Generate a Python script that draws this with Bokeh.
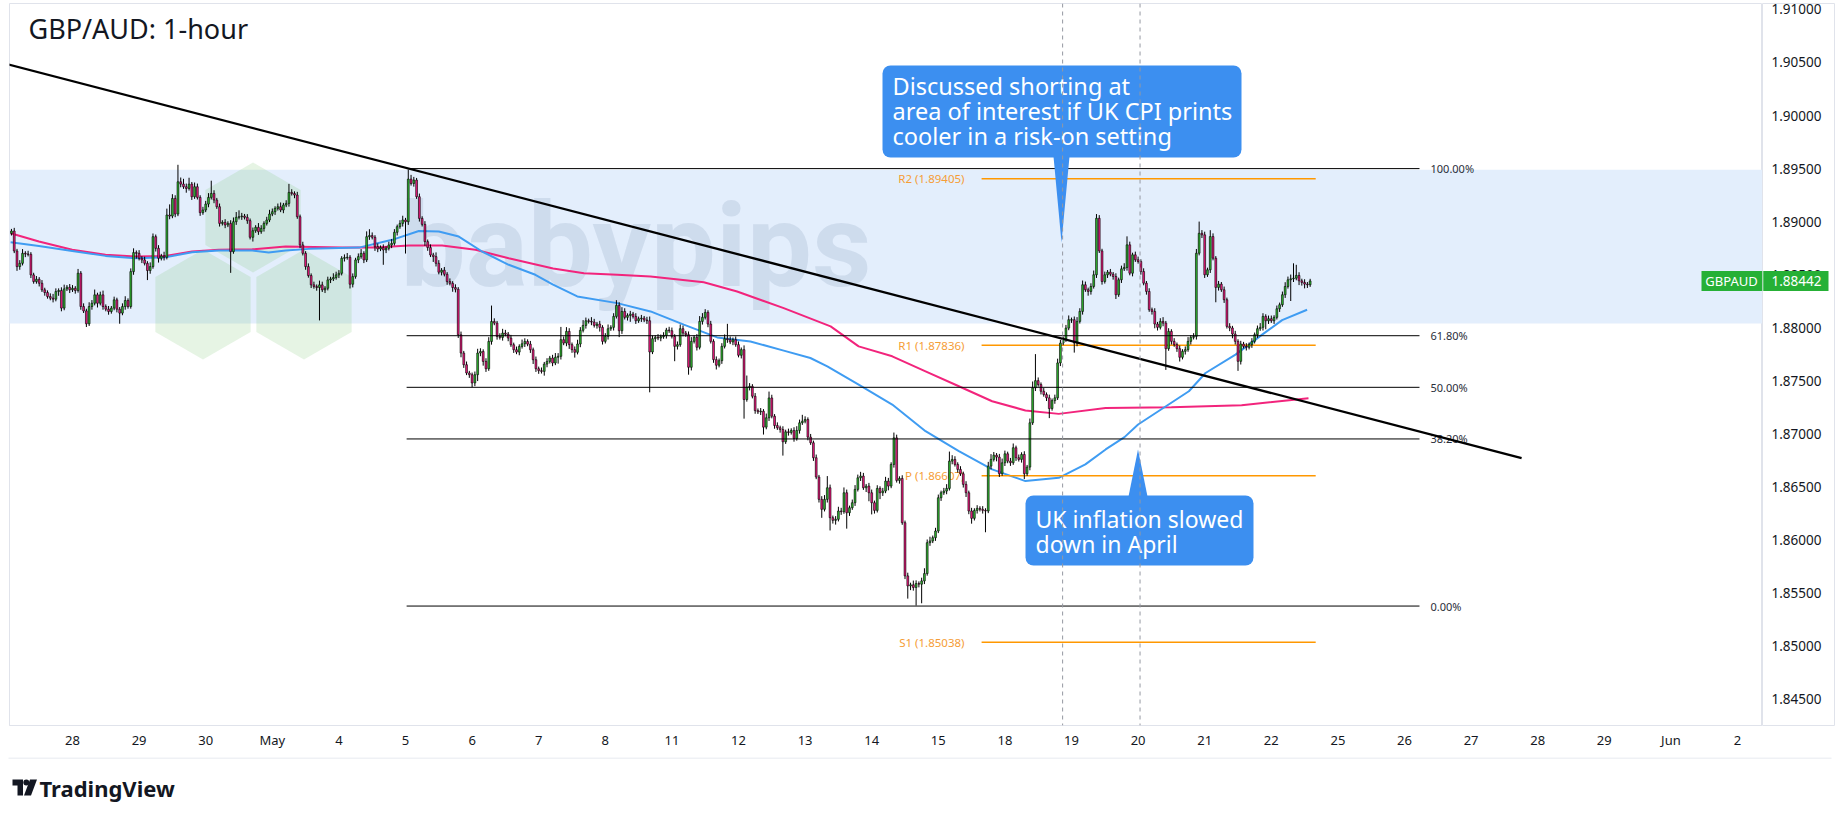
import math
from bokeh.plotting import figure
from bokeh.layouts import column, row
from bokeh.models import Range1d, FixedTicker, Span
from bokeh.core.properties import value
from bokeh.embed import file_html
from bokeh.resources import INLINE

# ---------------- data (hourly closes per trading day, GBP/AUD) ----------------
first_open = 1.88890
c_apr27 = [1.88912, 1.88724, 1.88577, 1.88608, 1.88702, 1.88696, 1.88693, 1.88499, 1.88436, 1.88458, 1.88420, 1.88358, 1.88333, 1.88295, 1.88280, 1.88270, 1.88342, 1.88352, 1.88186, 1.88367, 1.88383, 1.88358]
c_apr28 = [1.88373, 1.88352, 1.88515, 1.88201, 1.88160, 1.88038, 1.88201, 1.88232, 1.88311, 1.88232, 1.88311, 1.88201, 1.88176, 1.88154, 1.88186, 1.88264, 1.88176, 1.88139, 1.88201, 1.88258, 1.88201, 1.88530, 1.88709, 1.88702]
c_apr29 = [1.88655, 1.88640, 1.88608, 1.88540, 1.88577, 1.88859, 1.88749, 1.88655, 1.88677, 1.88665, 1.89063, 1.89053, 1.89219, 1.89072, 1.89376, 1.89354, 1.89329, 1.89313, 1.89354, 1.89235, 1.89329, 1.89229, 1.89085, 1.89110]
c_apr30 = [1.89166, 1.89229, 1.89266, 1.89204, 1.89141, 1.88984, 1.88994, 1.88969, 1.88984, 1.88718, 1.89000, 1.89041, 1.89047, 1.89053, 1.89041, 1.89010, 1.88853, 1.88915, 1.88947, 1.88906, 1.88937, 1.88984, 1.89016, 1.89072]
c_may01 = [1.89094, 1.89125, 1.89141, 1.89110, 1.89157, 1.89172, 1.89276, 1.89266, 1.89251, 1.89047, 1.88781, 1.88702, 1.88577, 1.88493, 1.88405, 1.88389, 1.88380, 1.88405, 1.88358, 1.88373, 1.88452, 1.88461, 1.88474, 1.88499]
c_may04 = [1.88514, 1.88655, 1.88662, 1.88665, 1.88411, 1.88483, 1.88640, 1.88671, 1.88702, 1.88640, 1.88859, 1.88869, 1.88853, 1.88765, 1.88743, 1.88756, 1.88734, 1.88749, 1.88781, 1.88796, 1.88900, 1.88953, 1.88984, 1.89016]
c_may05 = [1.89000, 1.89401, 1.89360, 1.89392, 1.89235, 1.89031, 1.88975, 1.88812, 1.88756, 1.88687, 1.88671, 1.88608, 1.88524, 1.88543, 1.88505, 1.88436, 1.88420, 1.88380, 1.88364, 1.87935, 1.87763, 1.87653, 1.87575, 1.87559]
c_may06 = [1.87481, 1.87559, 1.87763, 1.87778, 1.87684, 1.87615, 1.87872, 1.88060, 1.88045, 1.87919, 1.87910, 1.87951, 1.87941, 1.87904, 1.87841, 1.87794, 1.87772, 1.87825, 1.87850, 1.87872, 1.87847, 1.87794, 1.87700, 1.87615]
c_may07 = [1.87597, 1.87590, 1.87659, 1.87684, 1.87716, 1.87669, 1.87723, 1.87732, 1.87889, 1.87857, 1.87967, 1.87842, 1.87795, 1.87770, 1.87848, 1.87977, 1.88023, 1.88067, 1.88061, 1.88055, 1.88023, 1.88036, 1.88005, 1.87873]
c_may08 = [1.87920, 1.87992, 1.88005, 1.88108, 1.88211, 1.87973, 1.88155, 1.88099, 1.88117, 1.88130, 1.88108, 1.88067, 1.88086, 1.88092, 1.88074, 1.88067, 1.87773, 1.87898, 1.87911, 1.87904, 1.87917, 1.87929, 1.87980, 1.87973]
c_may11 = [1.87920, 1.87826, 1.87842, 1.87992, 1.87951, 1.87936, 1.87629, 1.87873, 1.87911, 1.87817, 1.88061, 1.88099, 1.88146, 1.88036, 1.87873, 1.87701, 1.87648, 1.87691, 1.87826, 1.87898, 1.87889, 1.87867, 1.87889, 1.87842]
c_may12 = [1.87742, 1.87795, 1.87325, 1.87441, 1.87450, 1.87356, 1.87221, 1.87209, 1.87215, 1.87065, 1.87153, 1.87340, 1.87168, 1.87080, 1.87059, 1.87043, 1.86927, 1.87021, 1.87015, 1.87034, 1.86958, 1.87034, 1.87106, 1.87121]
c_may13 = [1.87137, 1.86971, 1.86918, 1.86777, 1.86595, 1.86385, 1.86291, 1.86385, 1.86494, 1.86212, 1.86187, 1.86197, 1.86275, 1.86269, 1.86447, 1.86259, 1.86306, 1.86353, 1.86479, 1.86588, 1.86604, 1.86494, 1.86510, 1.86447]
c_may14 = [1.86353, 1.86281, 1.86488, 1.86447, 1.86463, 1.86557, 1.86510, 1.86714, 1.86964, 1.86563, 1.86582, 1.86165, 1.85664, 1.85570, 1.85580, 1.85555, 1.85592, 1.85586, 1.85617, 1.85686, 1.85977, 1.85993, 1.86024, 1.86087]
c_may15 = [1.86400, 1.86447, 1.86463, 1.86488, 1.86745, 1.86761, 1.86714, 1.86667, 1.86626, 1.86526, 1.86447, 1.86275, 1.86206, 1.86281, 1.86300, 1.86291, 1.86281, 1.86275, 1.86698, 1.86761, 1.86801, 1.86783, 1.86626, 1.86729]
c_may18 = [1.86814, 1.86745, 1.86730, 1.86871, 1.86777, 1.86761, 1.86808, 1.86626, 1.86689, 1.87106, 1.87435, 1.87503, 1.87466, 1.87403, 1.87372, 1.87341, 1.87240, 1.87315, 1.87341, 1.87670, 1.87857, 1.87898, 1.87998, 1.88077]
c_may19 = [1.88077, 1.87857, 1.88061, 1.88155, 1.88406, 1.88359, 1.88343, 1.88390, 1.88500, 1.89032, 1.88725, 1.88437, 1.88500, 1.88525, 1.88506, 1.88484, 1.88312, 1.88453, 1.88556, 1.88569, 1.88782, 1.88515, 1.88688, 1.88641]
c_may20 = [1.88625, 1.88531, 1.88421, 1.88343, 1.88171, 1.88155, 1.88036, 1.88005, 1.88061, 1.88045, 1.87804, 1.87967, 1.87873, 1.87842, 1.87804, 1.87723, 1.87779, 1.87795, 1.87873, 1.87911, 1.87920, 1.88703, 1.88891, 1.88876]
c_may21 = [1.88500, 1.88547, 1.88860, 1.88656, 1.88381, 1.88412, 1.88359, 1.88265, 1.88014, 1.87999, 1.87942, 1.87873, 1.87685, 1.87848, 1.87826, 1.87817, 1.87842, 1.87873, 1.87936, 1.87992, 1.88005, 1.88108, 1.88067, 1.88086]
c_may22 = [1.88067, 1.88099, 1.88180, 1.88218, 1.88312, 1.88390, 1.88453, 1.88462, 1.88468, 1.88494, 1.88443, 1.88428, 1.88412, 1.88406, 1.88442]

# upper / lower wick lengths in pips, per candle
u_apr27 = [2,3,2,3,4,2,3,2,2,3,2,3,2,2,3,4,3,2,3,4,2,3]
d_apr27 = [2,2,4,3,2,3,2,3,2,2,3,2,3,2,2,3,2,4,3,2,2,3]
u_apr28 = [3,2,4,2,3,2,4,3,5,2,3,4,2,3,2,3,2,2,3,4,2,3,4,2]
d_apr28 = [2,3,2,3,2,3,2,3,2,4,2,3,2,3,2,2,3,10,2,3,2,2,3,5]
u_apr29 = [3,2,3,2,4,3,2,3,2,4,6,10,4,3,16,4,5,3,6,2,4,3,2,3]
d_apr29 = [2,3,2,9,3,2,3,4,2,3,2,3,2,3,2,3,2,4,2,3,2,2,3,2]
u_apr30 = [3,4,12,3,2,3,2,3,2,3,4,5,6,3,2,3,2,3,2,4,3,2,3,4]
d_apr30 = [2,3,2,3,2,3,2,3,2,20,2,3,2,3,2,3,2,4,2,3,2,3,2,2]
u_may01 = [3,2,3,4,2,3,8,3,2,3,2,3,2,3,2,3,2,4,3,2,3,2,4,3]
d_may01 = [2,3,2,2,3,2,3,2,3,2,3,2,3,2,3,2,3,31,2,3,2,3,2,2]
u_may04 = [3,2,3,4,2,3,2,3,4,2,5,6,3,2,3,2,3,2,3,4,3,2,3,4]
d_may04 = [3,2,3,2,4,3,2,3,2,3,2,3,2,4,3,2,14,3,2,3,2,3,2,3]
u_may05 = [2,9,4,3,2,3,2,3,2,3,2,4,3,2,3,2,3,2,3,2,3,2,3,2]
d_may05 = [30,3,2,3,2,3,2,4,3,2,5,3,2,3,2,3,2,4,3,3,4,3,2,3]
u_may06 = [2,3,4,3,2,3,4,15,3,2,3,4,3,2,3,2,3,2,4,3,2,3,2,3]
d_may06 = [4,3,6,3,4,3,2,3,2,3,2,3,2,3,2,3,2,3,2,3,2,3,4,3]
u_may07 = [2,3,2,3,2,3,4,3,12,3,4,3,2,3,4,3,5,3,2,4,3,2,3,2]
d_may07 = [3,2,4,3,2,3,2,6,3,2,3,4,3,5,2,3,2,3,2,3,2,3,4,3]
u_may08 = [3,4,2,3,5,3,4,3,2,3,2,3,2,3,2,3,4,3,2,3,2,3,2,3]
d_may08 = [2,3,2,3,2,6,3,2,3,6,2,3,2,3,2,3,38,2,3,2,3,2,3,2]
u_may11 = [3,2,3,4,3,2,3,4,2,3,5,4,3,2,3,2,3,2,3,4,14,3,2,3]
d_may11 = [2,14,3,2,3,2,7,3,2,3,2,3,2,3,2,3,4,2,3,2,3,2,3,2]
u_may12 = [3,2,4,11,3,2,3,2,3,2,4,6,3,2,3,2,3,2,3,2,3,4,3,6]
d_may12 = [2,3,18,2,3,2,3,2,3,7,2,3,2,3,2,3,13,2,3,2,3,2,3,2]
u_may13 = [3,2,3,2,3,2,3,4,11,3,2,3,4,3,5,3,2,3,4,3,4,3,2,3]
d_may13 = [2,3,2,3,2,3,8,2,3,12,3,4,2,3,2,15,3,2,3,2,3,2,4,8]
u_may14 = [3,2,3,2,3,4,3,2,5,3,2,3,2,3,2,4,3,2,3,5,3,4,2,3]
d_may14 = [11,3,2,6,3,2,4,2,3,2,3,2,3,12,4,3,17,3,18,3,2,3,2,3]
u_may15 = [3,2,3,4,9,4,3,2,3,2,3,2,3,2,3,2,3,2,4,5,3,2,3,4]
d_may15 = [2,3,2,3,2,3,2,3,2,3,4,3,5,2,3,2,3,20,2,3,2,4,3,2]
u_may18 = [3,2,3,4,2,3,2,3,2,4,6,25,3,2,3,2,3,2,3,4,3,2,3,4]
d_may18 = [3,2,3,2,3,2,3,5,2,3,2,3,2,3,2,3,9,2,3,2,3,2,3,2]
u_may19 = [2,3,4,3,4,3,2,3,4,4,3,2,3,2,3,2,3,2,3,4,8,3,2,3]
d_may19 = [3,9,3,2,3,2,4,3,2,3,2,3,2,3,2,3,4,2,3,2,3,2,3,2]
u_may20 = [3,2,3,2,3,2,3,2,3,4,2,3,2,3,2,3,2,3,4,2,3,4,11,3]
d_may20 = [2,3,2,3,2,3,4,3,2,3,20,2,3,2,3,4,2,3,2,3,2,3,2,3]
u_may21 = [3,2,6,3,2,3,2,3,2,3,2,3,2,3,2,3,2,3,2,3,4,3,2,3]
d_may21 = [3,2,3,2,14,3,2,3,2,3,4,3,9,3,2,3,2,3,2,3,2,3,8,3]
u_may22 = [3,2,3,2,3,4,3,4,14,10,3,2,3,2,2]
d_may22 = [2,3,2,3,2,3,2,20,3,2,4,3,4,3,2]

# first bar index of each day (bar 0 = Apr 28 00:00, 24 bars per day)
day_start = [-22, 0, 24, 48, 72, 96, 120, 144, 168, 192, 216, 240, 264, 288, 312, 336, 360, 384, 408, 432]
day_close = [c_apr27, c_apr28, c_apr29, c_apr30, c_may01, c_may04, c_may05, c_may06, c_may07, c_may08,
             c_may11, c_may12, c_may13, c_may14, c_may15, c_may18, c_may19, c_may20, c_may21, c_may22]
day_up = [u_apr27, u_apr28, u_apr29, u_apr30, u_may01, u_may04, u_may05, u_may06, u_may07, u_may08,
          u_may11, u_may12, u_may13, u_may14, u_may15, u_may18, u_may19, u_may20, u_may21, u_may22]
day_dn = [d_apr27, d_apr28, d_apr29, d_apr30, d_may01, d_may04, d_may05, d_may06, d_may07, d_may08,
          d_may11, d_may12, d_may13, d_may14, d_may15, d_may18, d_may19, d_may20, d_may21, d_may22]

# moving averages (bar index, value)
ma200_t = [-22.3, -12.1, -0.1, 11.9, 22.7, 33.5, 43.1, 52.7, 64.8, 76.8, 97.2, 109.2, 121.2, 133.2, 145.2, 157.2, 173.2, 184.3, 196.3, 208.3, 227.5, 239.5, 256.3, 273.2, 283.3, 295.4, 307.4, 319.4, 331.4, 343.4, 355.4, 372.3, 396.0, 421.3, 445.4]
ma200 = [1.88891, 1.88813, 1.88735, 1.88688, 1.88672, 1.88678, 1.88719, 1.88735, 1.88740, 1.88766, 1.88756, 1.88756, 1.88775, 1.88775, 1.88735, 1.88656, 1.88559, 1.88515, 1.88500, 1.88484, 1.88430, 1.88343, 1.88186, 1.88014, 1.87826, 1.87732, 1.87591, 1.87450, 1.87309, 1.87222, 1.87190, 1.87246, 1.87253, 1.87271, 1.87337]
ma100_t = [-22.3, -12.1, -0.1, 11.9, 22.7, 33.5, 43.1, 52.7, 64.8, 70.7, 76.8, 85.2, 103.2, 115.2, 124.8, 132.0, 139.2, 147.6, 157.2, 166.8, 173.0, 181.9, 196.3, 208.3, 220.3, 232.3, 244.3, 256.3, 265.9, 272.0, 283.3, 295.4, 307.4, 319.4, 331.4, 343.4, 355.4, 365.0, 372.3, 379.1, 384.0, 402.3, 408.3, 419.1, 428.7, 435.9, 444.9]
ma100 = [1.88806, 1.88772, 1.88725, 1.88678, 1.88656, 1.88665, 1.88712, 1.88728, 1.88728, 1.88709, 1.88728, 1.88744, 1.88756, 1.88829, 1.88913, 1.88907, 1.88860, 1.88719, 1.88594, 1.88500, 1.88409, 1.88296, 1.88233, 1.88155, 1.88030, 1.87910, 1.87872, 1.87786, 1.87716, 1.87638, 1.87466, 1.87278, 1.87027, 1.86839, 1.86667, 1.86557, 1.86588, 1.86714, 1.86855, 1.86971, 1.87090, 1.87403, 1.87575, 1.87748, 1.87936, 1.88073, 1.88171]

trend_t = [-23.5, 522.2]
trend_p = [1.90484, 1.86773]

fib_high, fib_low = 1.8950, 1.8538
fib_ratios = [1.0, 0.618, 0.5, 0.382, 0.0]
fib_labels = ["100.00%", "61.80%", "50.00%", "38.20%", "0.00%"]
fib_t = [120.4, 485.4]

pivot_names = ["R2", "R1", "P", "S1"]
pivot_vals = [1.89405, 1.87836, 1.86607, 1.85038]
pivot_t = [327.6, 448.0]

zone_low, zone_high = 1.8804, 1.8949
event_t = [356.8, 384.7]
symbol = "GBPAUD"
last_price = 1.88442

day_labels = ["28", "29", "30", "May", "4", "5", "6", "7", "8", "11", "12", "13", "14", "15",
              "18", "19", "20", "21", "22", "25", "26", "27", "28", "29", "Jun", "2"]
price_ticks = [1.845, 1.850, 1.855, 1.860, 1.865, 1.870, 1.875, 1.880, 1.885, 1.890, 1.895, 1.900, 1.905, 1.910]

# ---------------- build candles ----------------
closes, idx, ups, dns = [], [], [], []
for s0, c, u, d in zip(day_start, day_close, day_up, day_dn):
    for h, (cv, uv, dv) in enumerate(zip(c, u, d)):
        idx.append(s0 + h)
        closes.append(cv)
        ups.append(uv)
        dns.append(dv)
opens = [first_open] + closes[:-1]
tops = [max(o, c) for o, c in zip(opens, closes)]
bots = [min(o, c) for o, c in zip(opens, closes)]
highs = [t + u * 0.0001 for t, u in zip(tops, ups)]
lows = [b - d * 0.0001 for b, d in zip(bots, dns)]
GREEN, RED = "#2fb52f", "#ec1a7e"
colors = [GREEN if c >= o else RED for o, c in zip(opens, closes)]
bot_draw = [b if t - b > 0.00004 else t - 0.00004 for t, b in zip(tops, bots)]

# ---------------- layout helpers (page pixels -> data) ----------------
FL, FR, FT, FB, HB = 9, 1762, 3, 725, 757   # frame edges / bottom of time-axis band (page px)
X0, X1 = (FL - 72.0) / 2.775, (FR - 72.0) / 2.775
Y0, Y1 = 1.84255, 1.91055
FH = float(FB - FT)
KY = (Y1 - Y0) / FH
def ix(px):
    return (px - 72.0) / 2.775
def py(pg):
    return Y1 - (pg - FT) * KY

FONT = "Noto Sans"
TXT = "#131722"
BORDER = "#e0e3eb"
yr = Range1d(Y0, Y1)

p = figure(width=FR, height=HB, x_range=Range1d(X0, X1), y_range=yr,
           output_backend="svg", toolbar_location=None, y_axis_location=None,
           min_border_left=FL, min_border_right=0, min_border_top=FT, min_border_bottom=HB - FB)
p.background_fill_color = "white"
p.border_fill_color = "white"
p.outline_line_color = BORDER
p.xgrid.visible = False
p.ygrid.visible = False

# zone
p.quad(left=X0 - 5, right=X1 + 5, bottom=zone_low, top=zone_high, fill_color="#e3eefc", line_color=None)

# babypips watermark
hex_centers = [(252.5, 217.0), (202.5, 304.0), (303.5, 304.0)]
hx, hy = [], []
for cx, cy in hex_centers:
    xs, ys = [], []
    for k in range(6):
        a = math.radians(90 + 60 * k)
        xs.append(ix(cx + 55 * math.cos(a)))
        ys.append(py(cy - 55 * math.sin(a)))
    hx.append(xs)
    hy.append(ys)
p.patches(hx, hy, fill_color="#82c878", fill_alpha=0.2, line_color=None)
p.text(x=[ix(400)], y=[py(245)], text=["babypips"], text_font=value("Roboto"), text_font_style="bold",
       text_font_size="116px", text_color="#8ea4bf", text_alpha=0.24, text_baseline="middle")

# moving averages
p.line(ma200_t, ma200, line_color="#f2247c", line_width=2)
p.line(ma100_t, ma100, line_color="#3f9cf2", line_width=2)

# pivots (indicator, below the candles)
p.segment(x0=[pivot_t[0]] * 4, x1=[pivot_t[1]] * 4, y0=pivot_vals, y1=pivot_vals, line_color="#ff9800", line_width=1.5)
p.text(x=[ix(964)] * 4, y=pivot_vals, text=["%s (%.5f)" % (n, v) for n, v in zip(pivot_names, pivot_vals)],
       text_font=value(FONT), text_font_size="11.5px", text_color="#f59d36", text_baseline="middle", text_align="right")

# candles
p.segment(x0=idx, y0=lows, x1=idx, y1=highs, line_color="black", line_width=1)
p.vbar(x=idx, width=0.66, top=tops, bottom=bot_draw, fill_color=colors, line_color="black", line_width=0.6)

# fibonacci
fib_vals = [fib_low + r * (fib_high - fib_low) for r in fib_ratios]
p.segment(x0=[fib_t[0]] * 5, x1=[fib_t[1]] * 5, y0=fib_vals, y1=fib_vals, line_color="black", line_width=1)
p.text(x=[ix(1430)] * 5, y=fib_vals, text=fib_labels, text_font=value(FONT), text_font_size="11px",
       text_color="#2a2e39", text_baseline="middle", text_align="left")

# trend line
p.line(trend_t, trend_p, line_color="black", line_width=2.3)

# event lines
for t in event_t:
    p.add_layout(Span(location=t, dimension="height", line_color="#9598a1", line_dash="4 4", line_width=1))

# callouts
CALL = "#3c8ff0"
p.quad(left=ix(882), right=ix(1241), top=py(65), bottom=py(157), fill_color=CALL, line_color=None, border_radius=8)
p.patch(x=[ix(1053), ix(1069), ix(1061)], y=[py(156), py(156), py(242)], fill_color=CALL, line_color=None)
p.text(x=[ix(892)] * 3, y=[py(85), py(110), py(135)],
       text=["Discussed shorting at", "area of interest if UK CPI prints", "cooler in a risk-on setting"],
       text_font=value(FONT), text_font_size="23.5px", text_color="white", text_baseline="middle")
p.quad(left=ix(1025), right=ix(1253), top=py(495), bottom=py(565), fill_color=CALL, line_color=None, border_radius=8)
p.patch(x=[ix(1128), ix(1147), ix(1137.5)], y=[py(496), py(496), py(449)], fill_color=CALL, line_color=None)
p.text(x=[ix(1035)] * 2, y=[py(518), py(543)], text=["UK inflation slowed", "down in April"],
       text_font=value(FONT), text_font_size="23px", text_color="white", text_baseline="middle")

# title
p.text(x=[ix(28)], y=[py(28)], text=["GBP/AUD: 1-hour"], text_font=value(FONT), text_font_size="27px",
       text_color=TXT, text_baseline="middle")

# last price tag (symbol part, inside the pane)
half = 10 * KY
p.quad(left=ix(1701), right=X1 + 5, bottom=last_price - half, top=last_price + half, fill_color="#26b036", line_color=None)
p.text(x=[ix(1731)], y=[last_price], text=[symbol], text_font=value(FONT), text_font_size="13px",
       text_color="white", text_baseline="middle", text_align="center")

# time axis
p.xaxis.ticker = FixedTicker(ticks=[24 * k for k in range(len(day_labels))])
p.xaxis.major_label_overrides = {24 * k: lab for k, lab in enumerate(day_labels)}
p.xaxis.axis_line_color = BORDER
p.xaxis.major_tick_line_color = None
p.xaxis.minor_tick_line_color = None
p.xaxis.major_tick_out = 0
p.xaxis.major_tick_in = 0
p.xaxis.minor_tick_out = 0
p.xaxis.major_label_text_font = FONT
p.xaxis.major_label_text_font_size = "13px"
p.xaxis.major_label_text_color = TXT
p.xaxis.major_label_standoff = 5

# ---------------- price scale panel (same price scale, same frame rows) ----------------
SW = 1835 - FR
s = figure(width=SW, height=HB, x_range=Range1d(0, SW), y_range=yr,
           output_backend="svg", toolbar_location=None, x_axis_location=None, y_axis_location=None,
           min_border_left=0, min_border_right=0, min_border_top=FT, min_border_bottom=HB - FB)
s.outline_line_color = BORDER
s.background_fill_color = "white"
s.border_fill_color = "white"
s.xgrid.visible = False
s.ygrid.visible = False
s.text(x=[9] * len(price_ticks), y=price_ticks, text=["%.5f" % t for t in price_ticks], text_font=value(FONT),
       text_font_size="13.5px", text_color=TXT, text_baseline="middle", text_align="left")
s.quad(left=0, right=66, bottom=last_price - half, top=last_price + half, fill_color="#26b036", line_color=None)
s.segment(x0=[0.5], x1=[0.5], y0=[last_price - half], y1=[last_price + half], line_color="#8fd99a", line_width=1)
s.text(x=[9], y=[last_price], text=["%.5f" % last_price], text_font=value(FONT), text_font_size="13.5px",
       text_color="white", text_baseline="middle", text_align="left")

# ---------------- footer with TradingView logo ----------------
f = figure(width=1835, height=815 - HB, x_range=Range1d(0, 1835), y_range=Range1d(0, 815 - HB),
           output_backend="svg", toolbar_location=None, x_axis_location=None, y_axis_location=None,
           min_border_left=0, min_border_right=0, min_border_top=0, min_border_bottom=0)
f.outline_line_color = None
f.background_fill_color = "white"
f.border_fill_color = "white"
f.xgrid.visible = False
f.ygrid.visible = False
def fy(pg):
    return 815.0 - pg
f.segment(x0=[8], x1=[1831], y0=[fy(757.5)], y1=[fy(757.5)], line_color=BORDER, line_width=1)
f.patch(x=[12, 22.5, 22.5, 17, 17, 12], y=[fy(779), fy(779), fy(795), fy(795), fy(785), fy(785)], fill_color=TXT, line_color=None)
f.scatter(x=[25.8], y=[fy(782)], size=6, marker="circle", fill_color=TXT, line_color=None)
f.patch(x=[29.5, 36.5, 30.5, 23.5], y=[fy(779), fy(779), fy(795), fy(795)], fill_color=TXT, line_color=None)
f.text(x=[39], y=[fy(787)], text=["TradingView"], text_font=value(FONT), text_font_style="bold",
       text_font_size="22px", text_color=TXT, text_baseline="middle")

layout = column(row(p, s, spacing=0), f, spacing=0)
open("out.html", "w").write(file_html(layout, INLINE))
